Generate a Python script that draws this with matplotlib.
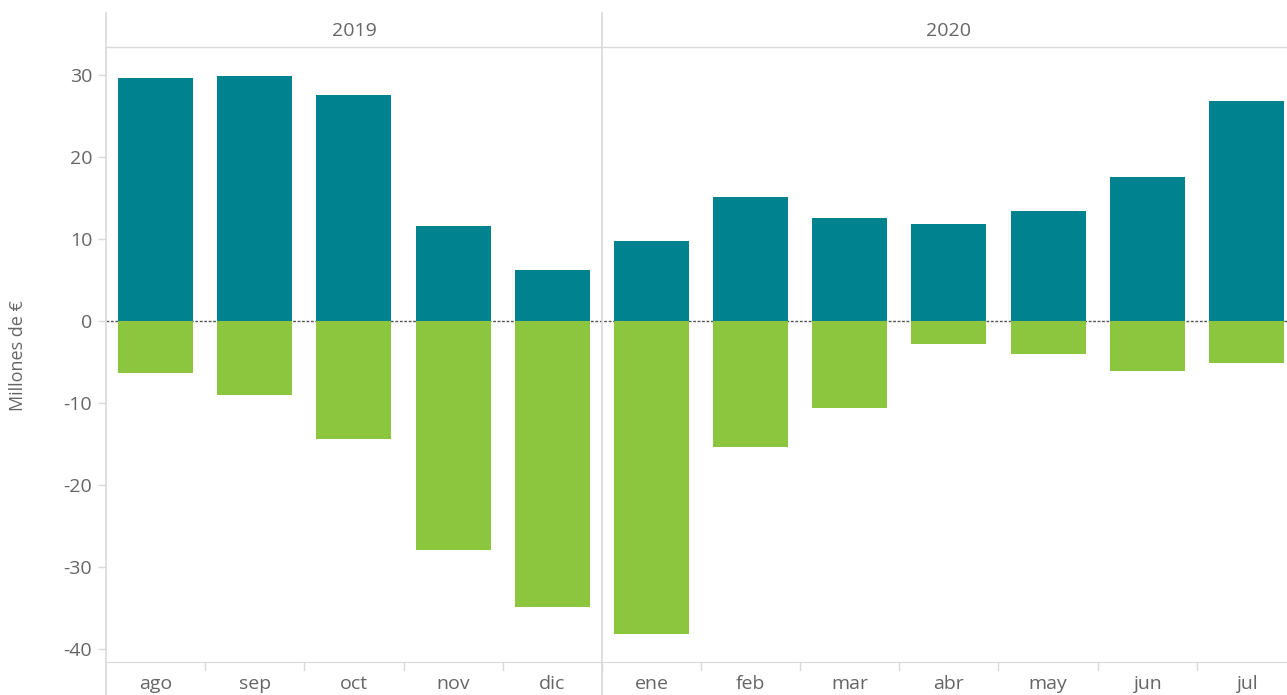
import matplotlib.pyplot as plt
from matplotlib.lines import Line2D

months = ["ago", "sep", "oct", "nov", "dic", "ene", "feb", "mar", "abr", "may", "jun", "jul"]
years = ["2019", "2020"]
year_counts = [5, 7]
positive = [29.6, 29.9, 27.6, 11.6, 6.2, 9.8, 15.1, 12.6, 11.8, 13.4, 17.6, 26.8]
negative = [-6.3, -9.0, -14.4, -27.9, -34.9, -38.2, -15.4, -10.6, -2.8, -4.0, -6.1, -5.1]

TEAL = "#00838f"
GREEN = "#8cc63f"
GRID = "#d9d9d9"
TXT = "#666666"

plt.rcParams["font.family"] = ["Open Sans", "DejaVu Sans"]
plt.rcParams["axes.unicode_minus"] = False

W, H = 1287, 695
fig = plt.figure(figsize=(W / 100, H / 100), dpi=100)
# the last pane runs slightly past the right edge of the canvas
left, right, top, bottom = 106, 1296, 47, 662
ax = fig.add_axes([left / W, 1 - bottom / H, (right - left) / W, (bottom - top) / H])
step = (right - left) / len(months)

x = list(range(len(months)))
ax.axhline(0, color="#555555", lw=1, ls=(0, (2, 1.2)), zorder=1)
ax.bar(x, positive, width=0.756, color=TEAL, zorder=2)
ax.bar(x, negative, width=0.756, color=GREEN, zorder=2)

ax.set_xlim(-0.5, len(months) - 0.5)
ax.set_ylim(-41.6, 33.4)
ax.set_yticks([30, 20, 10, 0, -10, -20, -30, -40])
ax.tick_params(axis="y", colors=GRID, labelcolor=TXT, labelsize=14, length=6, width=1, pad=4)
ax.set_xticks([])
fig.text(18 / W, 1 - 356 / H, "Millones de €", rotation=90, ha="center", va="center",
         color=TXT, fontsize=13)

for s in ["top", "right", "left"]:
    ax.spines[s].set_visible(False)
ax.spines["bottom"].set_color(GRID)

# month labels and boundary ticks below the axis
for i, m in enumerate(months):
    fig.text((left + (i + 0.5) * step) / W, 1 - 684 / H, m, ha="center", va="center",
             color=TXT, fontsize=14)
for b in range(1, len(months)):
    fig.add_artist(Line2D([(left + b * step) / W] * 2,
                          [1 - bottom / H, 1 - (bottom + 8) / H], color=GRID, lw=1))

# header band with year labels and the pane divider
fig.add_artist(Line2D([left / W, 1], [1 - top / H] * 2, color=GRID, lw=1))
fig.add_artist(Line2D([left / W] * 2, [0, 1 - 13 / H], color=GRID, lw=1.2))
start = 0
for yr, n in zip(years, year_counts):
    fig.text((left + (start + n / 2) * step) / W, 1 - 31 / H, yr,
             ha="center", va="center", color=TXT, fontsize=14)
    if start > 0:
        xd = (left + start * step) / W
        fig.add_artist(Line2D([xd] * 2, [0, 1 - 13 / H], color=GRID, lw=1.2))
    start += n

fig.savefig("out.png", dpi=100)
